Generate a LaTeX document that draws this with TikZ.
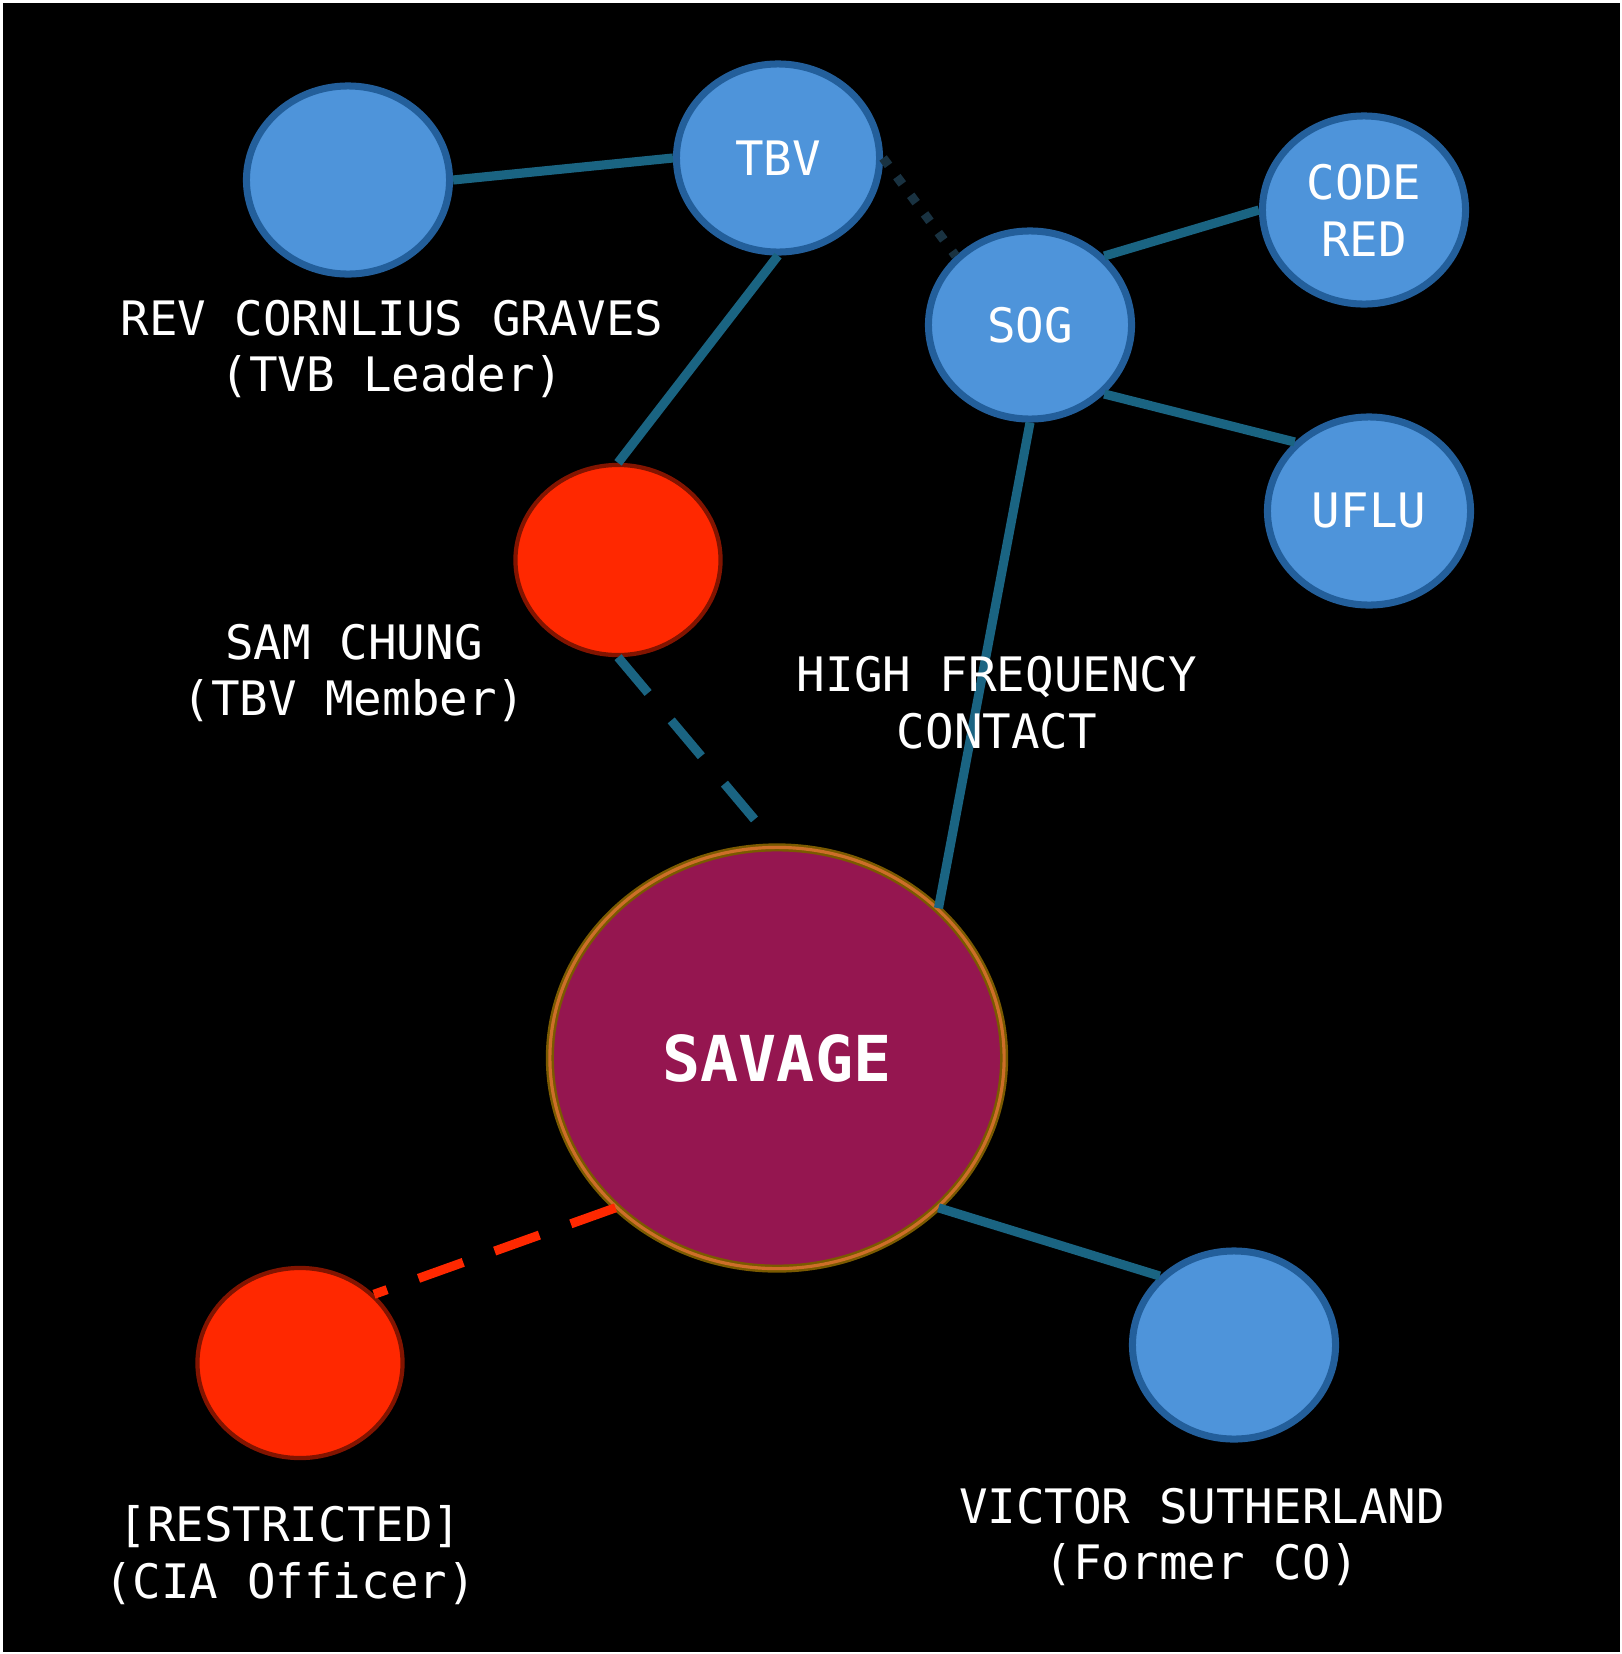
\documentclass[tikz,border=0pt]{standalone}
\usepackage{fontspec}
\setmonofont{DejaVu Sans Mono}
\usetikzlibrary{shapes.geometric}
\definecolor{nodeblue}{RGB}{78,148,218}
\definecolor{edgeblue}{RGB}{35,95,155}
\definecolor{linkblue}{RGB}{26,100,130}
\definecolor{hotred}{RGB}{255,40,0}
\definecolor{darkred}{RGB}{130,20,0}
\definecolor{savfill}{RGB}{149,22,80}
\definecolor{savouter}{RGB}{122,90,0}
\definecolor{savinner}{RGB}{205,110,40}
\definecolor{dotslate}{RGB}{25,50,65}

\begin{document}
\begin{tikzpicture}[x=0.01cm,y=-0.01cm,
    txt/.style={text=white,font=\ttfamily\fontsize{13.5}{16.2}\selectfont,align=center},
    bluenode/.style={ellipse,minimum width=2.03cm,minimum height=1.88cm,inner sep=0pt,
        fill=nodeblue,draw=edgeblue,line width=2pt,txt},
    rednode/.style={ellipse,minimum width=2.05cm,minimum height=1.9cm,inner sep=0pt,
        fill=hotred,draw=darkred,line width=1.2pt},
    link/.style={linkblue,line width=2.6pt},
    label/.style={txt}]
        % background
        \fill[white] (0,0) rectangle (1622,1654);
        \fill[black] (3,3) rectangle (1620,1652);

        % nodes
        \node[bluenode] (rev) at (348,180) {};
        \node[bluenode] (tbv) at (778,158) {TBV};
        \node[bluenode] (sog) at (1030,325) {SOG};
        \node[bluenode] (codered) at (1364,210) {CODE\\RED};
        \node[bluenode] (uflu) at (1369,511) {UFLU};
        \node[rednode] (sam) at (618,560) {};
        \node[ellipse,minimum width=4.54cm,minimum height=4.21cm,inner sep=0pt,
            fill=savfill,draw=savouter,double=savinner,double distance=0.9pt,line width=0.7pt,
            text=white,font=\ttfamily\bfseries\fontsize{18}{21}\selectfont] (savage) at (777,1058) {SAVAGE};
        \node[rednode] (cia) at (300,1363) {};
        \node[bluenode] (victor) at (1234,1345) {};

        % links
        \draw[link] (rev.east) -- (tbv.west);
        \draw[link] (tbv.south) -- (sam.north);
        \draw[dotslate,line width=2.6pt,dash pattern=on 2.6pt off 4pt] (tbv.east) -- (sog.north west);
        \draw[link] (sog.north east) -- (codered.west);
        \draw[link] (sog.south east) -- (uflu.north west);
        \draw[link] (sog.south) -- (savage.north east);
        \draw[link,dash pattern=on 13.3pt off 10.2pt] (sam.south) -- (savage.north);
        \draw[hotred,line width=2.6pt,dash pattern=on 13.5pt off 9.5pt] (savage.south west) -- (cia.north east);
        \draw[link] (savage.south east) -- (victor.north west);

        % labels
        \node[label] (revlbl) at (392,349) {REV CORNLIUS GRAVES\\(TVB Leader)};
        \node[label] (samlbl) at (354,673) {SAM CHUNG\\(TBV Member)};
        \node[label] (hflbl) at (997,703) {HIGH FREQUENCY\\CONTACT};
        \node[label] (cialbl) at (290,1555) {[RESTRICTED]\\(CIA Officer)};
        \node[label] (victorlbl) at (1202,1537) {VICTOR SUTHERLAND\\(Former CO)};
    \end{tikzpicture}
\end{document}
